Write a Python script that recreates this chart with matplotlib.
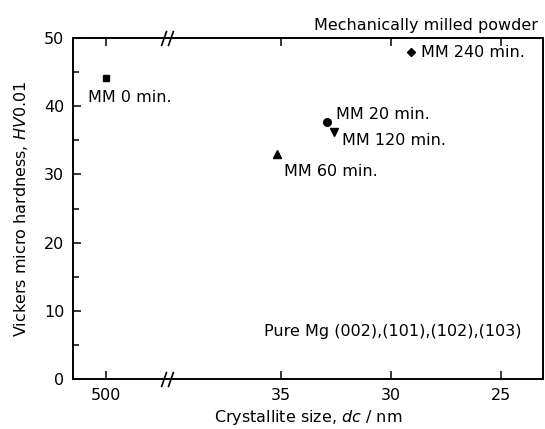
import numpy as np
import matplotlib
matplotlib.use('Agg')
import matplotlib.pyplot as plt
from matplotlib.path import Path
from matplotlib.ticker import FixedLocator, MultipleLocator

plt.rcParams['font.family'] = 'DejaVu Sans'
plt.rcParams['font.size'] = 11.5

# data
labels = ['MM 0 min.', 'MM 20 min.', 'MM 60 min.', 'MM 120 min.', 'MM 240 min.']
size_nm = [500, 32.9, 35.2, 32.6, 29.1]
hardness = [44.1, 37.7, 33.0, 36.2, 47.9]
markers = ['s', 'o', '^', 'v', 'D']
msizes = [5, 5.5, 5.5, 5.5, 4.5]
# label offsets (points)
offsets = [(-13, -14), (6, 5), (5, -13), (6, -6), (7, 0)]

xticks = [500, 35, 30, 25]
brk = 40.2          # where the axis is broken
c = 0.006024        # compression of the left (large size) segment


def fwd(x):
    x = np.asarray(x, dtype=float)
    return np.where(x <= brk, x, brk + (x - brk) * c)


def inv(u):
    u = np.asarray(u, dtype=float)
    return np.where(u <= brk, u, brk + (u - brk) / c)


fig = plt.figure(figsize=(5.45, 4.29), dpi=100)
ax = fig.add_axes([0.1334, 0.1154, 0.9963 - 0.1334, 0.912 - 0.1154])
ax.set_xscale('function', functions=(fwd, inv))
ax.set_xlim(750, 23.1)
ax.set_ylim(0, 50)

for i in range(len(labels)):
    ax.plot(size_nm[i], hardness[i], marker=markers[i], color='k',
            markersize=msizes[i], linestyle='none')
    ax.annotate(labels[i], (size_nm[i], hardness[i]), xytext=offsets[i],
                textcoords='offset points', ha='left', va='center')

ax.xaxis.set_major_locator(FixedLocator(xticks))
ax.xaxis.set_minor_locator(FixedLocator([]))
ax.set_xticklabels([str(t) for t in xticks])
ax.yaxis.set_major_locator(MultipleLocator(10))
ax.yaxis.set_minor_locator(MultipleLocator(5))
ax.tick_params(axis='x', which='both', direction='in', top=True, length=6, width=1.1, pad=6)
ax.tick_params(axis='y', which='major', direction='in', right=False, length=6, width=1.1, pad=6)
ax.tick_params(axis='y', which='minor', direction='in', right=False, length=4, width=1.1)
for s in ax.spines.values():
    s.set_linewidth(1.4)

# break marks on top and bottom spines
slash = Path([(-3.2, -4), (-0.4, 4), (0.4, -4), (3.2, 4)],
             [Path.MOVETO, Path.LINETO, Path.MOVETO, Path.LINETO])
ax.plot([brk, brk], [0, 1], transform=ax.get_xaxis_transform(), linestyle='none',
        marker=slash, markersize=11, markeredgewidth=1.2, color='k', clip_on=False)

ax.set_xlabel('Crystallite size, $dc$ / nm', labelpad=4)
ax.set_ylabel('Vickers micro hardness, $HV$0.01', labelpad=10)

ax.text(0.99, 1.015, 'Mechanically milled powder', transform=ax.transAxes,
        ha='right', va='bottom')
ax.text(0.955, 0.14, 'Pure Mg (002),(101),(102),(103)', transform=ax.transAxes,
        ha='right', va='center')

fig.savefig('out.png', dpi=100)
